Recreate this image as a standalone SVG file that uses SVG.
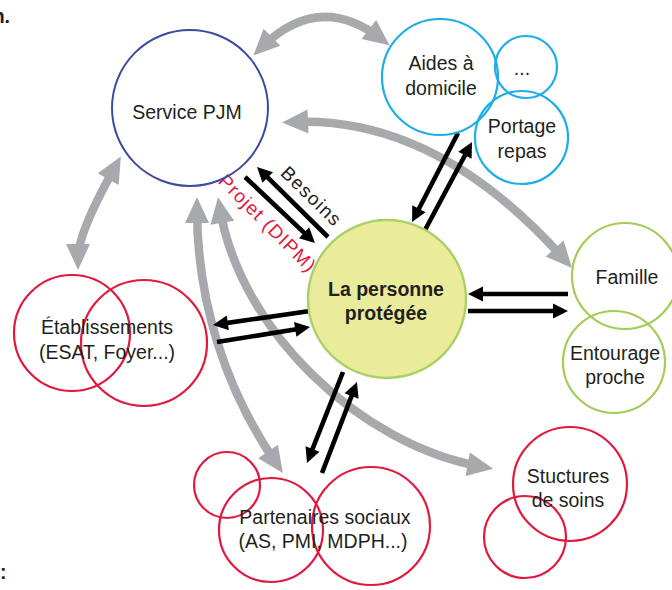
<svg xmlns="http://www.w3.org/2000/svg" width="672" height="590" viewBox="0 0 672 590">
<defs>
<style>
.t{font-family:"Liberation Sans",Arial,sans-serif;font-size:19.5px;fill:#231f20;text-anchor:middle}
.b{font-weight:bold}
.blue{fill:none;stroke:#3c4c9d;stroke-width:2}
.cyan{fill:none;stroke:#1eaee6;stroke-width:2.2}
.green{fill:none;stroke:#a3cd57;stroke-width:2.2}
.red{fill:none;stroke:#e1193f;stroke-width:2.2}
.gray{fill:none;stroke:#a7a9ac;stroke-width:8.5;marker-start:url(#gh);marker-end:url(#gh)}
.blk{fill:none;stroke:#000;stroke-width:4.6;marker-end:url(#bh)}
</style>
<marker id="gh" markerUnits="userSpaceOnUse" orient="auto-start-reverse" markerWidth="30" markerHeight="30" viewBox="-2 -13 30 26" refX="14" refY="0">
<path d="M0,-12 L26,0 L0,12 Z" fill="#a7a9ac"/>
</marker>
<marker id="bh" markerUnits="userSpaceOnUse" orient="auto" markerWidth="18" markerHeight="18" viewBox="-1 -9 18 18" refX="9" refY="0">
<path d="M0,-7.5 L15,0 L0,7.5 Z" fill="#000"/>
</marker>
</defs>
<rect width="672" height="590" fill="#fff"/>
<text class="t b" x="10" y="23" style="text-anchor:end">n.</text>
<text class="t b" x="0" y="579" style="text-anchor:start">:</text>

<g id="connectors">
<path class="gray" d="M262,47 Q319,-8.5 380,38"/>
<path class="gray" d="M115,167 Q78,233 78,258"/>
<path class="gray" d="M294,122 C390,118 480,165 564,259"/>
<path class="gray" d="M197,209 C197,300 225,389 276,463"/>
<path class="gray" d="M220,209 C240,330 360,445 481.5,466.7"/>
<path class="blk" d="M245,177 L310.6,238.9"/>
<path class="blk" d="M328,237 L261.3,171.2"/>
<path class="blk" d="M458,133 L414.8,216.7"/>
<path class="blk" d="M425,230 L469.2,147.3"/>
<path class="blk" d="M310,311 L218.9,324.1"/>
<path class="blk" d="M217,342 L304.1,328"/>
<path class="blk" d="M343,372 L309.2,457.4"/>
<path class="blk" d="M322,473 L354.8,387.6"/>
<path class="blk" d="M568,294 L474,294"/>
<path class="blk" d="M468,311 L562,311"/>
<text class="t" x="307" y="201" transform="rotate(44 307 201)" style="font-size:19px;letter-spacing:1.3px">Besoins</text>
<text class="t" x="263" y="228" transform="rotate(45 263 228)" style="font-size:19px;letter-spacing:1.1px;fill:#e1193f">Projet (DIPM)</text>
</g>

<g id="service-pjm">
<circle class="blue" cx="190" cy="108" r="78"/>
<text class="t" x="187" y="119">Service PJM</text>
</g>
<g id="aides-domicile">
<circle class="cyan" cx="440" cy="77" r="58"/>
<text class="t" x="441" y="70">Aides à</text>
<text class="t" x="441" y="95">domicile</text>
</g>
<g id="autres-aides">
<circle class="cyan" cx="526" cy="67" r="31"/>
<text class="t" x="522" y="75">...</text>
</g>
<g id="portage-repas">
<circle class="cyan" cx="521.5" cy="137.5" r="46.5"/>
<text class="t" x="522" y="133">Portage</text>
<text class="t" x="522" y="158">repas</text>
</g>
<g id="personne">
<circle cx="387" cy="299" r="79" fill="#eaeb9b" stroke="#a9d165" stroke-width="2.4"/>
<text class="t b" x="386" y="296">La personne</text>
<text class="t b" x="386" y="320">protégée</text>
</g>
<g id="famille">
<circle class="green" cx="625" cy="276" r="53"/>
<text class="t" x="627" y="284">Famille</text>
</g>
<g id="entourage">
<circle class="green" cx="614" cy="362" r="51"/>
<text class="t" x="615" y="360">Entourage</text>
<text class="t" x="615" y="384">proche</text>
</g>
<g id="etablissements">
<circle class="red" cx="72" cy="333" r="58"/>
<circle class="red" cx="144" cy="343" r="63"/>
<text class="t" x="107" y="334">Établissements</text>
<text class="t" x="107" y="359">(ESAT, Foyer...)</text>
</g>
<g id="partenaires">
<circle class="red" cx="227" cy="485" r="33"/>
<circle class="red" cx="271" cy="530" r="52"/>
<circle class="red" cx="371" cy="526" r="59"/>
<text class="t" x="325" y="524">Partenaires sociaux</text>
<text class="t" x="323" y="548">(AS, PMI, MDPH...)</text>
</g>
<g id="structures-soins">
<circle class="red" cx="570" cy="484" r="57"/>
<circle class="red" cx="525" cy="537" r="41"/>
<text class="t" x="568" y="483">Stuctures</text>
<text class="t" x="568" y="507">de soins</text>
</g>
</svg>
